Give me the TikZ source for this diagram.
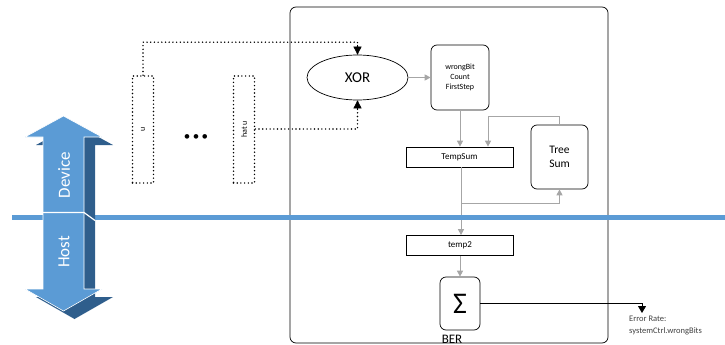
\documentclass[tikz,border=0pt]{standalone}
\usepackage{fontspec}
\setmainfont{Carlito}
\usetikzlibrary{arrows.meta,calc,shapes.geometric}
\definecolor{hostblue}{HTML}{5B9BD5}
\definecolor{hostside}{HTML}{2F5E8C}
\definecolor{flowgray}{HTML}{A6A6A6}
\definecolor{notegray}{HTML}{404040}
\begin{document}
\begin{tikzpicture}[x=1pt,y=-1pt,
  dotline/.style={line width=1.6pt, dash pattern=on 0pt off 3.7pt, line cap=round},
  dotbox/.style={draw, dotline, minimum width=21pt, minimum height=107pt, inner sep=0pt},
  flow/.style={draw=flowgray, line width=0.9pt},
  flowarrow/.style={flow, -{Triangle[length=6pt,width=6pt]}},
  feed/.style={line width=1pt, -{Triangle[length=7pt,width=8pt]}},
  roundbox/.style={draw, line width=0.7pt, rounded corners=6pt, inner sep=0pt},
  regbox/.style={draw, line width=0.7pt, minimum width=107pt, minimum height=20pt, inner sep=0pt, font=\fontsize{9}{10}\selectfont},
]
\useasboundingbox (0,0) rectangle (725,345);

% kernel frame
\draw[line width=0.7pt, rounded corners=6pt] (290,7) rectangle (608,343);

% input vectors
\node[dotbox] (u) at (143,129.5) {};
\node[rotate=90, font=\fontsize{8}{9}\selectfont] (ulab) at (u.center) {u};
\node[dotbox] (hu) at (244,129.5) {};
\node[rotate=90, font=\fontsize{8}{9}\selectfont] (hulab) at (hu.center) {hat u};
\node[font=\fontsize{13}{13}\selectfont, inner sep=0pt] (dots) at (196,138) {•\kern2.5pt•\kern2.5pt•};

% XOR and first step
\node[draw, ellipse, line width=0.7pt, minimum width=101pt, minimum height=45pt, inner sep=0pt, font=\fontsize{15}{16}\selectfont] (xor) at (357.5,77.5) {XOR};
\node[roundbox, minimum width=58pt, minimum height=65pt, align=center, font=\fontsize{8}{10}\selectfont] (first) at (460,77.5) {wrongBit\\Count\\FirstStep};
\node[regbox] (tempsum) at (459.5,157) {TempSum};
\node[roundbox, minimum width=57pt, minimum height=64pt, align=center, font=\fontsize{11.5}{14}\selectfont] (tree) at (559.5,157) {Tree\\Sum};
\node[regbox] (temp2) at (460,245.5) {temp2};
\node[roundbox, minimum width=40pt, minimum height=53pt, font=\fontsize{30}{30}\selectfont] (sigma) at (460,303.5) {Σ};
\node[font=\fontsize{13}{13}\selectfont, anchor=base] (ber) at (452,343) {BER};
\node[align=left, anchor=north west, inner sep=0pt, text=notegray, font=\fontsize{8.5}{12}\selectfont] (rate) at (629,316) {Error Rate:\\systemCtrl.wrongBits};

% inputs into XOR
\draw[dotline] (u.north) -- ++(0,-33) -| (xor.north);
\draw[-{Triangle[length=8pt,width=8pt]}, line width=0.6pt] ($(xor.north)+(0,-10)$) -- (xor.north);
\draw[dotline] (hu.east |- 0,129) -| (xor.south);
\draw[-{Triangle[length=8pt,width=8pt]}, line width=0.6pt] ($(xor.south)+(0,10)$) -- (xor.south);

% reduction flow
\draw[flowarrow] (xor.east) -- (first.west);
\draw[flowarrow] (first.south) -- (first.south |- tempsum.north);
\coordinate (loopin) at ($(tempsum.north)+(28.5,0)$);
\draw[flowarrow] (tree.north) -- ++(0,-8) -| (loopin);
\coordinate (split) at ($(tempsum.south)+(1.5,36)$);
\draw[flowarrow] ($(tempsum.south)+(1.5,0)$) -- (split) -| (tree.south);
\draw[flowarrow] (split) -- (split |- temp2.north);
\draw[flowarrow] (temp2.south) -- (sigma.north);

% result to host
\coordinate (out) at (642,313);
\draw[feed] (sigma.east) -| (out);

% device / host boundary
\draw[hostblue, line width=5pt] (12,217) -- (725,217);

% device / host double arrow
\begin{scope}[shift={(11,8)}]
  \fill[hostside] (63.5,116) -- (102,137) -- (84,137) -- (84,289) -- (102,289) -- (63.5,311) -- (25,289) -- (43,289) -- (43,137) -- (25,137) -- cycle;
\end{scope}
\fill[hostblue, draw=white, line width=0.6pt] (63.5,116) -- (102,137) -- (84,137) -- (84,289) -- (102,289) -- (63.5,311) -- (25,289) -- (43,289) -- (43,137) -- (25,137) -- cycle;
\draw[white, line width=1.2pt] (43,212.5) -- (84,212.5) -- (95,220.5);
\node[rotate=90, text=white, font=\fontsize{17}{17}\selectfont] (dev) at (64,175) {Device};
\node[rotate=90, text=white, font=\fontsize{17}{17}\selectfont] (host) at (64,252) {Host};
\end{tikzpicture}
\end{document}
